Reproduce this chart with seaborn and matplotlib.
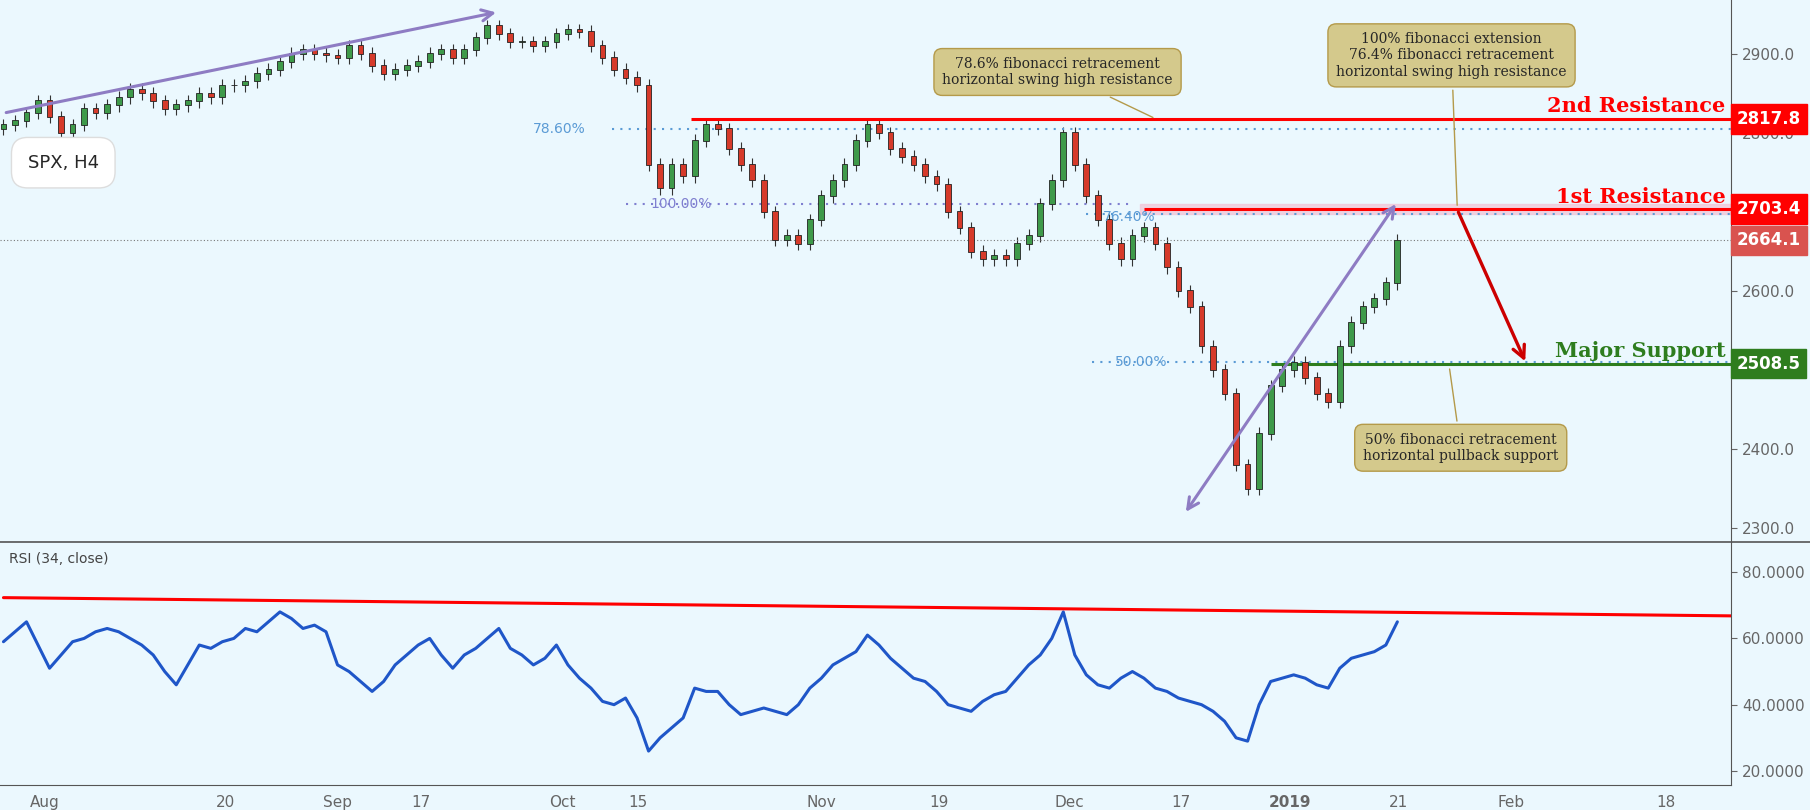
import numpy as np
import pandas as pd
import matplotlib
matplotlib.use("Agg")
import matplotlib.pyplot as plt
import seaborn as sns

# Cierres diarios aproximados (SPX, 26 jul 2018 - 18 ene 2019)
closes = [2810, 2815, 2825, 2840, 2820, 2800, 2810, 2830, 2825, 2835,
          2845, 2855, 2850, 2840, 2830, 2835, 2840, 2850, 2845, 2860,
          2860, 2865, 2875, 2880, 2890, 2900, 2905, 2900, 2898, 2895,
          2910, 2900, 2885, 2875, 2880, 2885, 2890, 2900, 2905, 2895,
          2905, 2920, 2935, 2925, 2915, 2915, 2910, 2915, 2925, 2930,
          2928, 2910, 2895, 2880, 2870, 2860, 2760, 2730, 2760, 2745,
          2790, 2810, 2805, 2780, 2760, 2740, 2700, 2665, 2670, 2660,
          2690, 2720, 2740, 2760, 2790, 2810, 2800, 2780, 2770, 2760,
          2745, 2735, 2700, 2680, 2650, 2640, 2645, 2640, 2660, 2670,
          2710, 2740, 2800, 2760, 2720, 2690, 2660, 2640, 2670, 2680,
          2660, 2630, 2600, 2580, 2530, 2500, 2470, 2380, 2350, 2420,
          2480, 2500, 2510, 2490, 2470, 2460, 2530, 2560, 2580, 2590,
          2610, 2664]
rsi = [59, 62, 65, 58, 51, 55, 59, 60, 62, 63, 62, 60, 58, 55, 50, 46, 52, 58, 57, 59,
       60, 63, 62, 65, 68, 66, 63, 64, 62, 52, 50, 47, 44, 47, 52, 55, 58, 60, 55, 51,
       55, 57, 60, 63, 57, 55, 52, 54, 58, 52, 48, 45, 41, 40, 42, 36, 26, 30, 33, 36,
       45, 44, 44, 40, 37, 38, 39, 38, 37, 40, 45, 48, 52, 54, 56, 61, 58, 54, 51, 48,
       47, 44, 40, 39, 38, 41, 43, 44, 48, 52, 55, 60, 68, 55, 49, 46, 45, 48, 50, 48,
       45, 44, 42, 41, 40, 38, 35, 30, 29, 40, 47, 48, 49, 48, 46, 45, 51, 54, 55, 56,
       58, 65]
tick_labels = ["Aug", "20", "Sep", "17", "Oct", "15", "Nov", "19", "Dec", "17", "2019", "21", "Feb", "18"]
tick_pos = [3.6, 19.3, 29.0, 36.2, 48.5, 55.1, 71.0, 81.2, 92.5, 102.2, 111.7, 121.1, 130.9, 144.3]
price_ticks = [2300, 2400, 2500, 2600, 2700, 2800, 2900]
price_tick_labels = ["2300.0", "2400.0", "", "2600.0", "", "2800.0", "2900.0"]
rsi_ticks = [20, 40, 60, 80]
res2, res1, support, last = 2817.8, 2703.4, 2508.5, 2664.1
fib786, fib100, fib764, fib50 = 2805, 2710, 2697, 2510

df = pd.DataFrame({"i": np.arange(len(closes)), "close": closes, "rsi": rsi})
df["open"] = df["close"].shift(1).fillna(df["close"][0] - 5)

bg = "#ebf8fe"
sns.set_style("white", {"axes.facecolor": bg, "figure.facecolor": bg})
fig = plt.figure(figsize=(18.1, 8.1), dpi=100)
ax = fig.add_axes([0.0, 0.3305, 0.9566, 0.6695])
ax2 = fig.add_axes([0.0, 0.031, 0.9566, 0.2995], sharex=ax)
XMAX = 150
for a in (ax, ax2):
    a.set_facecolor(bg)
    a.yaxis.tick_right()
    for s in ["top", "left"]:
        a.spines[s].set_visible(False)
    a.spines["right"].set_color("#555")
    a.spines["bottom"].set_color("#555")
    a.tick_params(colors="#666", labelsize=11, length=4)

# velas
up = df["close"] >= df["open"]
for sub, col in [(df[up], "#3f9a4a"), (df[~up], "#d63a2a")]:
    lo = np.minimum(sub["open"], sub["close"])
    hi = np.maximum(sub["open"], sub["close"])
    ax.vlines(sub["i"], lo - 8, hi + 8, color="#333", lw=0.8, zorder=2)
    ax.bar(sub["i"], hi - lo + 1, bottom=lo, width=0.5, color=col, edgecolor="#222", lw=0.6, zorder=3)

ax.set_xlim(-0.3, XMAX)
ax.set_ylim(2282.5, 2968)
ax.set_yticks(price_ticks)
ax.set_yticklabels(price_tick_labels)
ax.tick_params(axis="x", bottom=False, labelbottom=False)
# separador entre paneles
fig.add_artist(plt.Line2D([0, 1], [0.3305, 0.3305], color="#555", lw=1.2))

# lineas horizontales
ax.axhline(last, color="#777", ls=(0, (1, 2)), lw=0.8)
ax.hlines(res2, 59.7, XMAX, color="#ff0000", lw=2.2)
ax.hlines(fib786, 52.8, XMAX, color="#5b9bd5", ls=(0, (1, 3)), lw=1.5)
ax.hlines(fib100, 54, 98, color="#7f7fd0", ls=(0, (1, 3)), lw=1.5)
ax.axhspan(fib764, fib100, xmin=99 / (XMAX + 0.3), color="#f2c4d6", alpha=0.7)
ax.hlines(fib764, 94, XMAX, color="#5b9bd5", ls=(0, (1, 3)), lw=1.5)
ax.hlines(res1, 99, XMAX, color="#ff0000", lw=2.2)
ax.hlines(fib50, 94.5, XMAX, color="#5b9bd5", ls=(0, (1, 3)), lw=1.5)
ax.hlines(support, 110, XMAX, color="#2e7d1e", lw=2.2)
ax.text(50.5, fib786, "78.60%", color="#5b9bd5", fontsize=10, va="center", ha="right")
ax.text(61.5, fib100, "100.00%", color="#7f7fd0", fontsize=10, va="center", ha="right")
ax.text(100, fib764 - 3, "76.40%", color="#5b9bd5", fontsize=10, va="center", ha="right")
ax.text(101, fib50, "50.00%", color="#5b9bd5", fontsize=10, va="center", ha="right")
ax.text(149.5, res2 + 3, "2nd Resistance", color="#ff0000", fontsize=15, fontweight="bold",
        family="DejaVu Serif", ha="right", va="bottom")
ax.text(149.5, res1 + 3, "1st Resistance", color="#ff0000", fontsize=15, fontweight="bold",
        family="DejaVu Serif", ha="right", va="bottom")
ax.text(149.5, support + 3, "Major Support", color="#2e7d1e", fontsize=15, fontweight="bold",
        family="DejaVu Serif", ha="right", va="bottom")

# etiquetas del eje de precios
for val, col in [(res2, "#ff0000"), (res1, "#ff0000"), (last, "#d9534f"), (support, "#2e7d1e")]:
    ax.text(1.003, val, f"{val:.1f}", transform=ax.get_yaxis_transform(), color="white",
            fontsize=12, fontweight="bold", va="center", ha="left",
            bbox=dict(boxstyle="square,pad=0.35", fc=col, ec=col))

# flechas
ax.annotate("", xy=(43, 2953), xytext=(0, 2825),
            arrowprops=dict(arrowstyle="->", color="#8e7cc3", lw=2.2, mutation_scale=20))
ax.annotate("", xy=(121, 2713), xytext=(102.5, 2318),
            arrowprops=dict(arrowstyle="<->", color="#8e7cc3", lw=2.2, mutation_scale=20))
ax.annotate("", xy=(132.2, 2508), xytext=(126.2, 2703),
            arrowprops=dict(arrowstyle="->", color="#cc0000", lw=2.4, mutation_scale=22))

# cuadros de comentario
box = dict(boxstyle="round,pad=0.6", fc="#d4c98c", ec="#b49a4a", lw=1)
ax.annotate("78.6% fibonacci retracement\nhorizontal swing high resistance", xy=(100, 2818),
            xytext=(91.5, 2877), fontsize=10, family="DejaVu Serif", ha="center", va="center", bbox=box,
            arrowprops=dict(arrowstyle="-", color="#b49a4a", lw=1))
ax.annotate("100% fibonacci extension\n76.4% fibonacci retracement\nhorizontal swing high resistance",
            xy=(126.2, 2705), xytext=(125.7, 2898), fontsize=10, family="DejaVu Serif", ha="center", va="center",
            bbox=box, arrowprops=dict(arrowstyle="-", color="#b49a4a", lw=1))
ax.annotate("50% fibonacci retracement\nhorizontal pullback support", xy=(125.5, 2505),
            xytext=(126.5, 2402), fontsize=10, family="DejaVu Serif", ha="center", va="center", bbox=box,
            arrowprops=dict(arrowstyle="-", color="#b49a4a", lw=1))
ax.text(0.016, 0.70, "SPX, H4", transform=ax.transAxes, fontsize=13, va="center",
        bbox=dict(boxstyle="round,pad=0.9", fc="white", ec="#ddd"))

# RSI
sns.lineplot(data=df, x="i", y="rsi", ax=ax2, color="#1f56c8", lw=2.2)
ax2.plot([0, XMAX], [72.3, 66.8], color="#ff0000", lw=2.2)
ax2.set_ylim(15.8, 89)
ax2.set_yticks(rsi_ticks)
ax2.set_yticklabels([f"{v:.4f}" for v in rsi_ticks])
ax2.set_xticks(tick_pos)
ax2.set_xticklabels(tick_labels)
for t in ax2.get_xticklabels():
    if t.get_text() == "2019":
        t.set_fontweight("bold")
ax2.set_xlabel("")
ax2.set_ylabel("")
ax2.text(0.005, 0.93, "RSI (34, close)", transform=ax2.transAxes, fontsize=10, color="#444", va="center")

fig.savefig("out.png", dpi=100, facecolor=bg)
